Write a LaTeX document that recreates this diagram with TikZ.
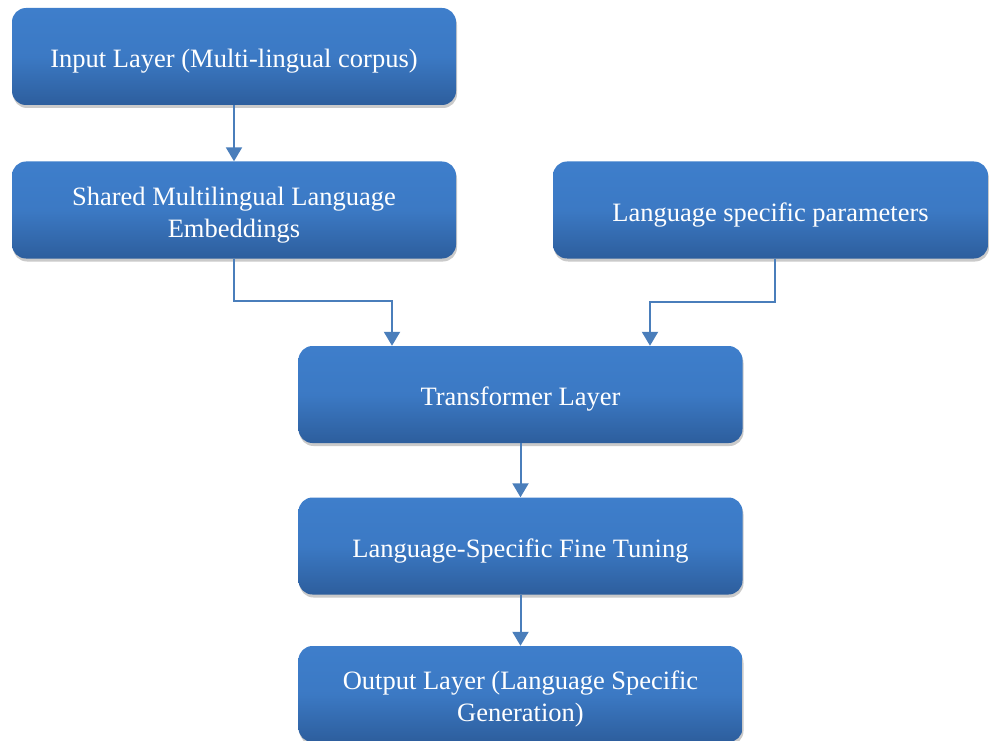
\documentclass[tikz,border=0pt]{standalone}
\usepackage{fontspec}
\setmainfont{Liberation Serif}
\usetikzlibrary{arrows.meta, positioning, shadows}
\definecolor{boxtop}{RGB}{62, 126, 203}
\definecolor{boxbottom}{RGB}{45, 94, 157}
\definecolor{arrowblue}{RGB}{74, 126, 187}

\tikzset{
  layerbox/.style={rounded corners=14pt, top color=boxtop, bottom color=boxbottom, middle color=boxtop!85!boxbottom,
    inner sep=0pt, minimum height=97pt, minimum width=444pt,
    drop shadow={shadow xshift=1pt, shadow yshift=-3pt, opacity=0.35, fill=black!60}},
  boxtext/.style={text=white, align=center, inner sep=0pt, yshift=-5pt,
    font=\fontsize{26.5}{32}\selectfont},
  flowarrow/.style={draw=arrowblue, line width=2pt, -{Triangle[width=16pt, length=14pt]}}
}

\begin{document}
\begin{tikzpicture}[x=1pt, y=-1pt]
  \useasboundingbox (0,0) rectangle (989,741);

  \node[layerbox, label={[boxtext]center:Input Layer (Multi-lingual corpus)}] (input) at (234,56.5) {};
  \node[layerbox, label={[boxtext]center:Shared Multilingual Language\\Embeddings}] (shared) at (234,210) {};
  \node[layerbox, minimum width=435pt, label={[boxtext]center:Language specific parameters}] (langparams) at (770.5,210) {};
  \node[layerbox, label={[boxtext]center:Transformer Layer}] (transformer) at (520.5,394.5) {};
  \node[layerbox, label={[boxtext]center:Language-Specific Fine Tuning}] (finetune) at (520.5,546) {};
  \node[layerbox, minimum height=96pt, label={[boxtext]center:Output Layer (Language Specific\\Generation)}] (output) at (520.5,694) {};

  \draw[flowarrow] (input.south) -- (shared.north);
  \draw[flowarrow] (shared.south) -- ++(0,42) -| ([xshift=-128.5pt]transformer.north);
  \draw[flowarrow] ([xshift=4.5pt]langparams.south) -- ++(0,43) -| ([xshift=129.5pt]transformer.north);
  \draw[flowarrow] (transformer.south) -- (finetune.north);
  \draw[flowarrow] (finetune.south) -- (output.north);
\end{tikzpicture}
\end{document}
